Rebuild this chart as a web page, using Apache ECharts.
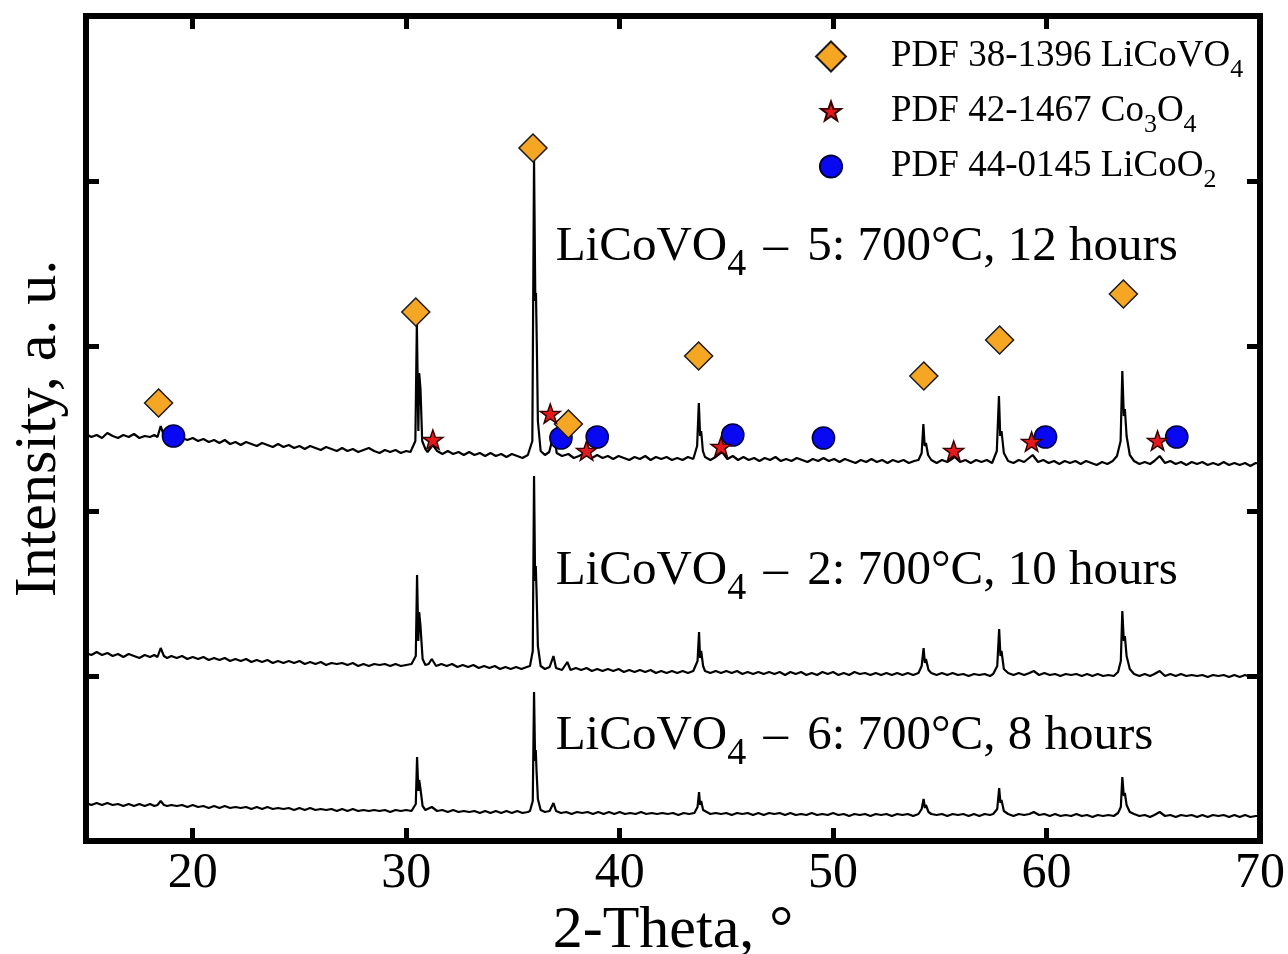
<!DOCTYPE html>
<html>
<head>
<meta charset="utf-8">
<script src="https://cdn.jsdelivr.net/npm/echarts@6/dist/echarts.min.js"></script>
<style>html,body{margin:0;padding:0;background:#fff;}#c{width:1288px;height:954px;}</style>
</head>
<body>
<div id="c"></div>
<script>
// ---- data (x = 2-Theta in degrees, y = intensity, arbitrary units) ----
var xTickValues = [20, 30, 40, 50, 60];
var xLabelValues = [20, 30, 40, 50, 60, 70];

var trace12h = [[15.0,407],[15.25,404],[15.5,406],[15.75,403],[16.0,408],[16.25,405],[16.5,403],[16.75,406],[17.0,404],[17.25,407],[17.5,403],[17.75,405],[18.0,404],[18.2,406],[18.35,404],[18.5,415],[18.65,405],[18.8,403],[19.0,402],[19.25,405],[19.5,403],[19.75,401],[20.0,403],[20.25,400],[20.5,402],[20.75,399],[21.0,401],[21.25,398],[21.5,401],[21.75,397],[22.0,399],[22.25,396],[22.5,399],[22.75,397],[23.0,395],[23.25,398],[23.5,396],[23.75,394],[24.0,397],[24.25,394],[24.5,396],[24.75,393],[25.0,395],[25.25,392],[25.5,395],[25.75,393],[26.0,391],[26.25,394],[26.5,392],[26.75,390],[27.0,393],[27.25,390],[27.5,392],[27.75,389],[28.0,391],[28.25,393],[28.5,390],[28.75,388],[29.0,391],[29.25,389],[29.5,391],[29.75,388],[30.0,390],[30.2,389],
  [30.43,400],[30.5,518],[30.57,410],[30.61,468],[30.67,452],[30.75,400],[30.9,392],
  [31.0,389],[31.25,396],[31.45,390],[31.7,387],[31.95,390],[32.2,387],[32.45,389],[32.7,386],[32.95,389],[33.2,386],[33.45,388],[33.7,385],[33.95,388],[34.2,385],[34.45,387],[34.7,384],[34.95,387],[35.2,385],[35.45,383],[35.7,386],
  [35.91,400],[35.99,681],[36.05,540],[36.08,548],[36.12,497],[36.17,420],[36.3,390],
  [36.5,386],[36.7,389],[36.93,408],[37.05,388],[37.3,385],[37.6,387],[37.85,383],[38.1,385],[38.45,389],[38.7,383],[38.95,386],[39.2,383],[39.45,385],[39.7,382],[39.95,385],[40.2,383],[40.45,381],[40.7,384],[40.95,382],[41.2,385],[41.45,381],[41.7,384],[41.95,382],[42.2,384],[42.45,381],[42.7,383],[42.95,381],[43.2,384],[43.45,382],
  [43.63,395],[43.71,438],[43.77,405],[43.82,410],[43.9,390],
  [44.0,384],[44.25,381],[44.5,384],[44.8,389],[45.05,382],[45.3,385],[45.55,381],[45.8,384],[46.05,381],[46.3,383],[46.55,380],[46.8,383],[47.05,381],[47.3,384],[47.55,380],[47.8,382],[48.05,380],[48.3,383],[48.55,381],[48.8,379],[49.05,382],[49.3,380],[49.55,383],[49.8,380],[50.05,382],[50.3,379],[50.55,382],[50.8,380],[51.05,378],[51.3,381],[51.55,379],[51.8,382],[52.05,379],[52.3,381],[52.55,378],[52.8,381],[53.05,379],[53.3,381],[53.55,378],[53.8,380],[54.0,381],
  [54.15,388],[54.23,417],[54.29,395],[54.35,398],[54.45,386],
  [54.6,381],[54.85,378],[55.1,381],[55.35,379],[55.7,384],[55.95,379],[56.2,381],[56.45,378],[56.7,381],[56.95,379],[57.2,381],[57.45,378],
  [57.67,390],[57.77,445],[57.83,405],[57.89,410],[58.0,388],
  [58.2,380],[58.45,378],[58.7,381],[58.95,379],[59.35,386],[59.6,379],[59.85,381],[60.1,378],[60.35,380],[60.6,377],[60.85,380],[61.1,378],[61.35,380],[61.6,377],[61.85,380],[62.1,378],[62.35,376],[62.6,379],[62.85,377],[63.1,380],
  [63.3,385],[63.47,400],[63.55,470],[63.62,425],[63.67,432],[63.75,405],[63.9,386],
  [64.1,380],[64.35,377],[64.6,379],[64.85,377],[65.05,380],[65.3,385],[65.55,378],[65.8,380],[66.05,377],[66.3,379],[66.55,376],[66.8,379],[67.05,377],[67.3,379],[67.55,376],[67.8,378],[68.05,376],[68.3,379],[68.55,376],[68.8,378],[69.05,376],[69.3,378],[69.55,375],[69.8,378],[70.0,377]];

var trace10h = [[15.0,188],[15.25,186],[15.5,189],[15.75,186],[16.0,188],[16.25,185],[16.5,187],[16.75,184],[17.0,187],[17.25,185],[17.5,183],[17.75,186],[18.0,184],[18.2,186],[18.35,184],[18.5,193],[18.65,185],[18.8,183],[19.0,185],[19.25,183],[19.5,185],[19.75,182],[20.0,184],[20.25,182],[20.5,184],[20.75,181],[21.0,183],[21.25,181],[21.5,183],[21.75,180],[22.0,182],[22.25,180],[22.5,182],[22.75,179],[23.0,181],[23.25,179],[23.5,181],[23.75,178],[24.0,180],[24.25,178],[24.5,180],[24.75,178],[25.0,180],[25.25,177],[25.5,179],[25.75,177],[26.0,179],[26.25,176],[26.5,178],[26.75,177],[27.0,178],[27.25,176],[27.5,178],[27.75,175],[28.0,177],[28.25,175],[28.5,177],[28.75,176],[29.0,177],[29.25,175],[29.5,177],[29.75,175],[30.0,176],[30.25,177],
  [30.45,185],[30.51,266],[30.57,200],[30.61,229],[30.67,215],[30.77,182],
  [30.9,176],[31.05,177],[31.2,182],[31.4,175],[31.65,177],[31.9,175],[32.15,177],[32.4,174],[32.65,176],[32.9,174],[33.15,176],[33.4,173],[33.65,175],[33.9,173],[34.15,175],[34.4,172],[34.65,174],[34.9,172],[35.15,174],[35.4,172],[35.65,174],[35.8,175],
  [35.93,190],[35.99,365],[36.04,260],[36.07,275],[36.11,248],[36.17,195],[36.3,175],
  [36.5,172],[36.72,174],[36.9,185],[37.02,173],[37.3,171],[37.55,179],[37.7,171],[37.95,173],[38.2,171],[38.45,173],[38.7,170],[38.95,172],[39.2,170],[39.45,172],[39.7,170],[39.95,172],[40.2,169],[40.45,171],[40.7,169],[40.95,171],[41.2,169],[41.45,171],[41.7,168],[41.95,170],[42.2,168],[42.45,170],[42.7,168],[42.95,170],[43.2,168],[43.45,170],
  [43.65,180],[43.72,209],[43.77,183],[43.82,190],[43.91,175],
  [44.0,170],[44.25,168],[44.5,170],[44.75,168],[45.0,170],[45.25,168],[45.5,170],[45.75,167],[46.0,169],[46.25,167],[46.5,169],[46.75,167],[47.0,169],[47.25,167],[47.5,169],[47.75,166],[48.0,169],[48.25,167],[48.5,169],[48.75,166],[49.0,168],[49.25,166],[49.5,169],[49.75,167],[50.0,169],[50.25,166],[50.5,168],[50.75,166],[51.0,169],[51.25,167],[51.5,168],[51.75,166],[52.0,168],[52.25,166],[52.5,168],[52.75,166],[53.0,168],[53.25,166],[53.5,168],[53.75,166],[54.0,168],
  [54.15,175],[54.24,193],[54.3,178],[54.35,182],[54.47,171],
  [54.6,168],[54.85,166],[55.1,168],[55.35,166],[55.6,168],[55.85,166],[56.1,167],[56.35,165],[56.6,167],[56.85,166],[57.1,167],[57.35,165],[57.5,167],
  [57.69,175],[57.78,212],[57.84,185],[57.89,190],[58.0,172],
  [58.2,168],[58.45,166],[58.7,168],[58.95,166],[59.2,168],[59.4,170],[59.65,166],[59.9,168],[60.15,166],[60.4,167],[60.65,165],[60.9,167],[61.15,166],[61.4,167],[61.65,165],[61.9,167],[62.15,165],[62.4,167],[62.65,165],[62.9,166],[63.15,165],
  [63.35,169],[63.48,180],[63.55,230],[63.62,200],[63.67,205],[63.75,185],[63.9,172],
  [64.1,167],[64.35,165],[64.6,167],[64.85,165],[65.05,167],[65.3,170],[65.55,165],[65.8,167],[66.05,165],[66.3,167],[66.55,165],[66.8,166],[67.05,165],[67.3,166],[67.55,164],[67.8,166],[68.05,165],[68.3,166],[68.55,164],[68.8,166],[69.05,164],[69.3,166],[69.55,164],[69.8,166],[70.0,165]];

var trace8h = [[15.0,38],[15.25,36],[15.5,38],[15.75,36],[16.0,38],[16.25,36],[16.5,37],[16.75,35],[17.0,37],[17.25,35],[17.5,37],[17.75,35],[18.0,37],[18.2,35],[18.35,36],[18.5,40],[18.65,36],[18.8,35],[19.0,36],[19.25,35],[19.5,36],[19.75,34],[20.0,36],[20.25,34],[20.5,35],[20.75,33],[21.0,35],[21.25,33],[21.5,35],[21.75,33],[22.0,34],[22.25,33],[22.5,34],[22.75,32],[23.0,34],[23.25,32],[23.5,34],[23.75,32],[24.0,33],[24.25,32],[24.5,33],[24.75,31],[25.0,33],[25.25,31],[25.5,33],[25.75,31],[26.0,32],[26.25,31],[26.5,32],[26.75,30],[27.0,32],[27.25,30],[27.5,32],[27.75,30],[28.0,31],[28.25,30],[28.5,31],[28.75,30],[29.0,31],[29.25,29],[29.5,31],[29.75,30],[30.0,31],[30.25,30],
  [30.45,37],[30.51,84],[30.57,50],[30.61,61],[30.67,52],[30.77,35],
  [30.9,31],[31.2,34],[31.45,30],[31.7,31],[31.95,29],[32.2,31],[32.45,29],[32.7,30],[32.95,29],[33.2,30],[33.45,28],[33.7,30],[33.95,28],[34.2,30],[34.45,28],[34.7,30],[34.95,28],[35.2,30],[35.45,28],[35.7,29],[35.8,30],
  [35.93,40],[35.99,149],[36.04,80],[36.07,91],[36.11,69],[36.17,42],[36.3,31],
  [36.5,29],[36.72,30],[36.9,38],[37.02,30],[37.25,28],[37.5,29],[37.75,27],[38.0,29],[38.25,28],[38.5,29],[38.75,27],[39.0,29],[39.25,27],[39.5,29],[39.75,27],[40.0,29],[40.25,27],[40.5,28],[40.75,27],[41.0,29],[41.25,27],[41.5,28],[41.75,27],[42.0,28],[42.25,27],[42.5,28],[42.75,26],[43.0,28],[43.25,27],[43.5,28],
  [43.65,34],[43.72,49],[43.77,36],[43.82,40],[43.91,31],
  [44.0,29],[44.25,27],[44.5,28],[44.75,27],[45.0,28],[45.25,26],[45.5,28],[45.75,27],[46.0,28],[46.25,26],[46.5,28],[46.75,26],[47.0,28],[47.25,27],[47.5,28],[47.75,26],[48.0,28],[48.25,26],[48.5,27],[48.75,26],[49.0,28],[49.25,26],[49.5,27],[49.75,26],[50.0,28],[50.25,26],[50.5,27],[50.75,25],[51.0,27],[51.25,26],[51.5,27],[51.75,25],[52.0,27],[52.25,26],[52.5,27],[52.75,25],[53.0,27],[53.25,26],[53.5,27],[53.75,25],[54.0,27],
  [54.15,32],[54.24,42],[54.3,33],[54.35,36],[54.47,29],
  [54.6,27],[54.85,26],[55.1,27],[55.35,25],[55.6,27],[55.85,26],[56.1,27],[56.35,25],[56.6,27],[56.85,25],[57.1,27],[57.35,26],[57.5,27],
  [57.69,32],[57.78,53],[57.84,38],[57.89,41],[58.0,30],
  [58.2,27],[58.45,25],[58.7,27],[58.95,26],[59.2,27],[59.4,29],[59.65,26],[59.9,27],[60.15,25],[60.4,27],[60.65,25],[60.9,26],[61.15,25],[61.4,27],[61.65,25],[61.9,26],[62.15,24],[62.4,26],[62.65,25],[62.9,26],[63.15,25],
  [63.35,28],[63.48,34],[63.55,64],[63.62,45],[63.67,48],[63.75,36],[63.9,29],
  [64.1,27],[64.35,25],[64.6,26],[64.85,24],[65.05,26],[65.3,29],[65.55,25],[65.8,26],[66.05,24],[66.3,26],[66.55,25],[66.8,26],[67.05,24],[67.3,26],[67.55,24],[67.8,26],[68.05,25],[68.3,26],[68.55,24],[68.8,26],[69.05,24],[69.3,26],[69.55,24],[69.8,25],[70.0,25]];

// reference phase markers (placed above the 12 h pattern)
var liCoVO4Marks = [[18.4,438],[30.45,529],[35.94,693],[37.6,417],[43.7,485],[54.25,465],[57.8,501],[63.6,547]];
var co3o4Marks = [[31.25,401],[36.75,427],[38.45,390],[44.75,394],[55.65,390],[59.3,399],[65.2,400]];
var liCoO2Marks = [[19.1,405],[37.25,403],[38.95,404],[45.3,406],[49.55,403],[59.95,404],[66.1,404]];

// sample labels
var sampleLabels = [
  {pos: [37.0, 594], main: 'LiCoVO', sub: '4', rest: ' 5: 700°C, 12 hours'},
  {pos: [37.0, 270], main: 'LiCoVO', sub: '4', rest: ' 2: 700°C, 10 hours'},
  {pos: [37.0, 105], main: 'LiCoVO', sub: '4', rest: ' 6: 700°C, 8 hours'}
];

var legendNames = ['PDF 38-1396 LiCoVO4', 'PDF 42-1467 Co3O4', 'PDF 44-0145 LiCoO2'];
var legendRich = [
  '{a|PDF 38-1396 LiCoVO}{s|4}',
  '{a|PDF 42-1467 Co}{s|3}{b|O}{s|4}',
  '{a|PDF 44-0145 LiCoO}{s|2}'
];

// ---- chart ----
var FONT = '"Liberation Serif", "Times New Roman", serif';
var STAR = 'path://M0 0M100 100M50 17L58.23 40.67L83.29 41.18L63.32 56.33L70.57 80.32L50 66L29.43 80.32L36.68 56.33L16.71 41.18L41.77 40.67Z';
var CIRC = 'path://M0 0M100 100M50 13A37 37 0 1 1 50 87A37 37 0 1 1 50 13Z';

var axisLineStyle = {color: '#000', width: 6, cap: 'square'};
var tickStyle = {color: '#000', width: 5};

function lineSeries(data) {
  return {type: 'line', data: data, symbol: 'none', showSymbol: false, silent: true,
    lineStyle: {color: '#000', width: 2.2}, z: 2, animation: false};
}

var option = {
  animation: false,
  backgroundColor: '#fff',
  grid: {left: 86, right: 28, top: 16, bottom: 113, containLabel: false, outerBoundsMode: 'none'},
  legend: {
    orient: 'vertical', left: 810, top: 33, itemWidth: 30, itemHeight: 30, itemGap: 10,
    selectedMode: false,
    data: legendNames,
    formatter: function (name) { return legendRich[legendNames.indexOf(name)]; },
    textStyle: {
      fontFamily: FONT, color: '#000',
      rich: {
        a: {fontFamily: FONT, fontSize: 37, color: '#000', lineHeight: 53, padding: [0, 0, 0, 40]},
        b: {fontFamily: FONT, fontSize: 37, color: '#000', lineHeight: 53},
        s: {fontFamily: FONT, fontSize: 26, color: '#000', lineHeight: 10, verticalAlign: 'bottom'}
      }
    }
  },
  xAxis: [
    {type: 'value', min: 15, max: 70, position: 'bottom',
      axisLine: {show: true, onZero: false, lineStyle: axisLineStyle},
      axisTick: {show: true, inside: true, length: 13, lineStyle: tickStyle, customValues: xTickValues},
      axisLabel: {show: true, customValues: xLabelValues, fontFamily: FONT, fontSize: 50, color: '#000', margin: 8},
      splitLine: {show: false},
      name: '2-Theta, °', nameLocation: 'middle', nameGap: 60, nameMoveOverlap: false,
      nameTextStyle: {fontFamily: FONT, fontSize: 60, color: '#000'}},
    {type: 'value', min: 15, max: 70, position: 'top',
      axisLine: {show: true, onZero: false, lineStyle: axisLineStyle},
      axisTick: {show: true, inside: true, length: 13, lineStyle: tickStyle, customValues: xTickValues},
      axisLabel: {show: false}, splitLine: {show: false}}
  ],
  yAxis: [
    {type: 'value', min: 0, max: 825, interval: 165, position: 'left',
      axisLine: {show: true, onZero: false, lineStyle: axisLineStyle},
      axisTick: {show: true, inside: true, length: 13, lineStyle: tickStyle},
      axisLabel: {show: false}, splitLine: {show: false},
      name: 'Intensity, a. u.', nameLocation: 'middle', nameGap: 17, nameMoveOverlap: false,
      nameTextStyle: {fontFamily: FONT, fontSize: 60, color: '#000'}},
    {type: 'value', min: 0, max: 825, interval: 165, position: 'right',
      axisLine: {show: true, onZero: false, lineStyle: axisLineStyle},
      axisTick: {show: true, inside: true, length: 13, lineStyle: tickStyle},
      axisLabel: {show: false}, splitLine: {show: false}}
  ],
  series: [
    lineSeries(trace12h),
    lineSeries(trace10h),
    lineSeries(trace8h),
    {name: legendNames[2], type: 'scatter', data: liCoO2Marks, symbol: CIRC, symbolSize: 30, z: 3,
      itemStyle: {color: '#0808F2', borderColor: '#00003a', borderWidth: 1.5, opacity: 1}},
    {name: legendNames[0], type: 'scatter', data: liCoVO4Marks, symbol: 'diamond', symbolSize: 28, z: 4,
      itemStyle: {color: '#F5A623', borderColor: '#1a1a1a', borderWidth: 1.5, opacity: 1}},
    {name: legendNames[1], type: 'scatter', data: co3o4Marks, symbol: STAR, symbolSize: 30, z: 5,
      itemStyle: {color: '#E3191C', borderColor: '#3a0000', borderWidth: 1.5, opacity: 1}},
    {type: 'scatter', silent: true, symbol: 'circle', symbolSize: 0.1, z: 6,
      itemStyle: {color: '#ffffff', opacity: 1},
      data: sampleLabels.map(function (l) {
        return {value: l.pos, label: {formatter: '{a|' + l.main + '}{s|' + l.sub + '}{d| –}{a|' + l.rest + '}'}};
      }),
      label: {show: true, position: 'right', distance: 0, color: '#000', opacity: 1,
        textBorderWidth: 0, fontFamily: FONT, fontSize: 49,
        rich: {
          a: {fontFamily: FONT, fontSize: 49, color: '#000', lineHeight: 75, textBorderWidth: 0},
          d: {fontFamily: FONT, fontSize: 49, color: '#000', lineHeight: 75, textBorderWidth: 0, padding: [0, 7, 0, 0]},
          s: {fontFamily: FONT, fontSize: 38, color: '#000', lineHeight: 10, verticalAlign: 'bottom', textBorderWidth: 0, padding: [0, 5, 0, 0]}
        }}}
  ]
};

var chart = echarts.init(document.getElementById('c'), null, {renderer: 'canvas'});
chart.setOption(option);
</script>
</body>
</html>
